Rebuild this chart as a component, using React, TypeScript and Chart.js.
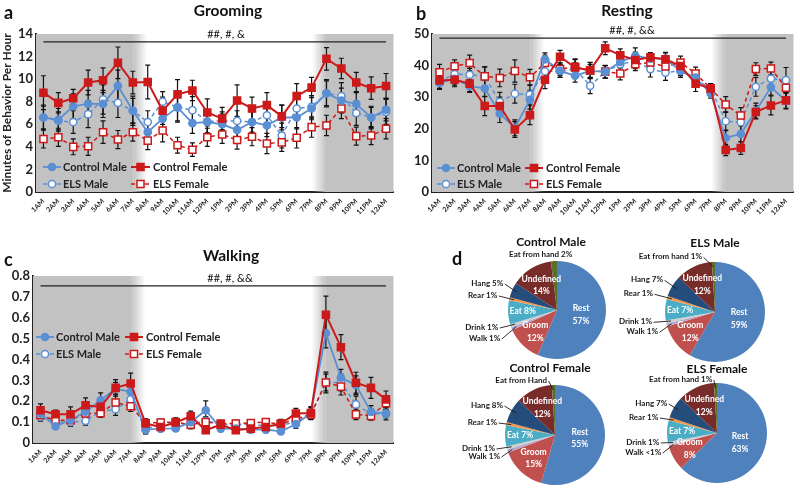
import React, { useEffect, useRef } from 'react';
import { Chart, registerables } from 'chart.js';
Chart.register(...registerables);

const FONT = 'Lato, "Open Sans", sans-serif';
const BLUE = '#5a8fd4';
const RED = '#cc1a1a';
const NIGHT = '#c2c2c2';

// ---------- data ----------
const hours = ['1AM','2AM','3AM','4AM','5AM','6AM','7AM','8AM','9AM','10AM','11AM','12PM','1PM','2PM','3PM','4PM','5PM','6PM','7PM','8PM','9PM','10PM','11PM','12AM'];
const nightRanges = [[0, 6], [19, 23]];
const seriesNames = ['Control Male', 'Control Female', 'ELS Male', 'ELS Female'];

const groomControlMale = [6.6,6.4,7.6,7.8,7.8,9.4,7.2,5.3,6.5,7.5,6.1,6.2,6.0,5.5,6.2,5.9,6.6,6.6,7.4,8.75,8.1,7.8,6.6,7.3];
const groomControlFemale = [8.8,7.9,8.3,9.7,9.9,11.45,9.7,9.75,7.2,8.65,9.0,7.05,6.5,8.1,7.4,7.7,6.7,8.5,9.25,11.8,10.95,9.7,9.2,9.4];
const groomELSMale = [6.6,6.3,6.2,6.9,8.2,7.9,7.2,6.2,8.0,7.5,7.25,6.25,6.3,6.3,6.2,6.8,5.0,7.4,7.55,8.75,8.5,7.0,6.6,7.1];
const groomELSFemale = [4.7,4.85,4.0,4.05,5.3,4.65,5.3,4.55,5.45,4.15,3.75,4.85,5.1,4.6,4.9,4.3,4.4,4.8,5.75,5.9,7.4,4.95,5.0,5.6];
const groomControlMaleErr = [1.1,1.0,1.1,1.2,1.2,1.4,1.3,0.9,1.0,1.3,0.9,1.0,0.9,0.9,1.0,1.0,1.1,1.0,1.0,1.2,1.1,1.1,1.0,1.0];
const groomControlFemaleErr = [1.5,0.9,0.8,1.1,1.1,1.4,1.0,1.5,1.2,1.3,0.9,1.2,1.0,1.4,1.0,1.1,1.0,1.1,0.9,1.0,0.9,0.9,1.0,1.1];
const groomELSMaleErr = [1.0,0.8,1.0,1.2,1.3,1.3,1.1,1.0,0.9,1.2,1.2,1.0,0.8,0.9,0.9,1.0,1.1,1.0,1.0,1.1,1.2,1.1,0.9,1.1];
const groomELSFemaleErr = [0.8,0.8,0.7,0.8,1.0,0.8,0.8,0.8,1.0,0.7,0.6,0.8,0.8,0.8,0.8,0.9,0.8,0.9,0.9,0.9,0.9,0.8,0.8,0.9];

const restControlMale = [34.5,35.8,33.5,32.8,24.8,20.3,29.2,42.0,38.3,36.8,38.3,38.0,41.2,43.1,42.2,42.2,38.3,36.2,31.2,17.1,18.4,25.6,33.2,28.8];
const restControlFemale = [35.3,35.5,34.3,27.2,27.2,19.8,24.3,35.5,42.8,39.4,38.5,45.5,43.3,41.8,42.6,42.0,39.9,34.3,32.8,13.3,13.9,25.3,27.4,29.0];
const restELSMale = [35.1,37.3,37.1,36.6,28.5,31.1,30.8,38.2,38.3,38.9,33.6,38.0,40.4,41.5,38.9,37.8,38.3,35.7,32.8,22.4,22.1,33.3,35.9,35.4];
const restELSFemale = [37.9,39.8,40.8,36.6,36.1,38.3,36.3,40.8,38.9,39.6,38.4,38.1,37.5,40.4,41.0,39.7,41.0,37.5,32.8,27.7,24.2,38.9,39.1,33.0];
const restControlMaleErr = [2.0,2.0,2.0,2.5,2.8,2.5,3.0,2.0,2.0,2.0,2.0,2.0,2.0,2.5,1.5,2.0,1.5,2.0,1.5,2.5,2.5,2.5,2.5,2.5];
const restControlFemaleErr = [2.5,2.2,2.5,3.0,2.8,2.5,3.0,2.8,2.0,2.5,2.5,2.0,2.0,2.5,1.5,2.0,2.0,2.5,1.5,1.8,2.0,2.0,3.0,2.5];
const restELSMaleErr = [2.5,2.0,2.0,3.0,3.0,3.0,3.0,2.0,2.0,2.0,2.5,2.0,2.0,2.5,2.5,2.5,2.0,2.5,1.5,3.0,3.0,3.0,2.5,4.0];
const restELSFemaleErr = [2.5,2.0,2.5,3.0,2.8,3.5,2.5,2.5,2.0,2.5,2.5,2.0,2.0,2.0,1.5,2.0,2.0,2.0,1.5,2.5,2.5,2.0,2.0,3.0];

const walkControlMale = [0.14,0.08,0.11,0.15,0.205,0.26,0.245,0.064,0.069,0.07,0.1,0.157,0.069,0.069,0.064,0.064,0.056,0.09,0.144,0.526,0.313,0.277,0.149,0.141];
const walkControlFemale = [0.157,0.138,0.138,0.181,0.173,0.264,0.285,0.093,0.077,0.098,0.128,0.061,0.088,0.061,0.069,0.077,0.093,0.141,0.144,0.614,0.459,0.289,0.264,0.209];
const walkELSMale = [0.125,0.10,0.10,0.106,0.15,0.162,0.209,0.065,0.093,0.09,0.09,0.106,0.09,0.085,0.093,0.08,0.085,0.10,0.137,0.29,0.29,0.185,0.138,0.141];
const walkELSFemale = [0.133,0.109,0.109,0.141,0.143,0.194,0.176,0.096,0.098,0.10,0.088,0.10,0.093,0.093,0.096,0.10,0.09,0.114,0.137,0.29,0.27,0.137,0.13,0.19];
const walkControlMaleErr = [0.02,0.015,0.02,0.02,0.035,0.03,0.03,0.02,0.015,0.015,0.02,0.045,0.015,0.015,0.015,0.015,0.015,0.02,0.025,0.07,0.04,0.045,0.03,0.02];
const walkControlFemaleErr = [0.03,0.02,0.035,0.035,0.03,0.04,0.05,0.02,0.015,0.02,0.025,0.015,0.015,0.015,0.015,0.015,0.02,0.025,0.03,0.09,0.06,0.05,0.05,0.04];
const walkELSMaleErr = [0.02,0.015,0.02,0.02,0.02,0.03,0.03,0.02,0.015,0.02,0.02,0.02,0.015,0.015,0.015,0.015,0.015,0.02,0.02,0.05,0.04,0.04,0.025,0.03];
const walkELSFemaleErr = [0.025,0.02,0.02,0.025,0.02,0.04,0.025,0.02,0.015,0.02,0.02,0.02,0.015,0.015,0.015,0.015,0.015,0.02,0.025,0.04,0.04,0.025,0.02,0.03];

const pieCategories = ['Rest','Groom','Walk','Drink','Eat','Rear','Hang','Undefined','Eat from hand'];
const pieControlMale = [57,12,1,1,8,1,5,14,2];
const pieELSMale = [59,12,1,1,7,1,7,12,1];
const pieControlFemale = [55,15,1,1,7,1,8,12,1];
const pieELSFemale = [63,8,0.5,1,7,1,7,12,1];
const pieControlMaleText = ['Rest|57%','Groom|12%','Walk 1%','Drink 1%','Eat 8%','Rear 1%','Hang 5%','Undefined|14%','Eat from hand 2%'];
const pieELSMaleText = ['Rest|59%','Groom|12%','Walk 1%','Drink 1%','Eat 7%','Rear 1%','Hang 7%','Undefined|12%','Eat from hand 1%'];
const pieControlFemaleText = ['Rest|55%','Groom|15%','Walk 1%','Drink 1%','Eat 7%','Rear 1%','Hang 8%','Undefined|12%','Eat from Hand'];
const pieELSFemaleText = ['Rest|63%','Groom|8%','Walk <1%','Drink 1%','Eat 7%','Rear 1%','Hang 7%','Undefined|12%','Eat from hand 1%'];

// ---------- styles ----------
const pieColors = ['#4f81bd','#c0504d','#b7a6cc','#cfcfcf','#4bacc6','#f79646','#244d7b','#772c2a','#5b6e2a'];
const seriesStyle = [
  { color: BLUE, style: 'circle', r: 3.6, fill: BLUE, dash: [], lw: 1.8 },
  { color: RED, style: 'rect', r: 5, fill: RED, dash: [], lw: 2 },
  { color: BLUE, style: 'circle', r: 3.6, fill: '#ffffff', dash: [4, 3], lw: 1.5 },
  { color: RED, style: 'rect', r: 5, fill: '#ffffff', dash: [4, 3], lw: 1.5 },
];

function drawMarker(ctx, st, x, y) {
  ctx.save();
  ctx.setLineDash([]);
  ctx.fillStyle = st.fill;
  ctx.strokeStyle = st.color;
  ctx.lineWidth = 1.5;
  ctx.beginPath();
  if (st.style === 'circle') ctx.arc(x, y, st.r, 0, Math.PI * 2);
  else { const s = st.r * Math.SQRT1_2; ctx.rect(x - s, y - s, 2 * s, 2 * s); }
  ctx.fill();
  ctx.stroke();
  ctx.restore();
}

function LineChart({ left, top, width, height, series, errors, yMin, yMax, step, sig, yWidth, xHeight, padTop, padRight, legend, yTitle }) {
  const ref = useRef(null);
  useEffect(() => {
    const nightPlugin = {
      id: 'night',
      beforeDatasetsDraw(chart) {
        const { ctx, chartArea: a, scales } = chart;
        const x = scales.x;
        const half = (x.getPixelForValue(1) - x.getPixelForValue(0)) / 2;
        const fade = 7;
        ctx.save();
        nightRanges.forEach(([s, e]) => {
          const L = Math.max(a.left, x.getPixelForValue(s) - half);
          const R = Math.min(a.right, x.getPixelForValue(e) + half);
          const inL = L > a.left + 1;
          const inR = R < a.right - 1;
          const sL = inL ? L + fade : L;
          const sR = inR ? R - fade : R;
          ctx.fillStyle = NIGHT;
          ctx.fillRect(sL, a.top, sR - sL, a.bottom - a.top);
          if (inL) {
            const g = ctx.createLinearGradient(L - fade, 0, L + fade, 0);
            g.addColorStop(0, 'rgba(194,194,194,0)');
            g.addColorStop(1, NIGHT);
            ctx.fillStyle = g;
            ctx.fillRect(L - fade, a.top, 2 * fade, a.bottom - a.top);
          }
          if (inR) {
            const g = ctx.createLinearGradient(R - fade, 0, R + fade, 0);
            g.addColorStop(0, NIGHT);
            g.addColorStop(1, 'rgba(194,194,194,0)');
            ctx.fillStyle = g;
            ctx.fillRect(R - fade, a.top, 2 * fade, a.bottom - a.top);
          }
        });
        // significance line
        const ys = scales.y.getPixelForValue(sig);
        ctx.strokeStyle = '#222';
        ctx.lineWidth = 1.3;
        ctx.beginPath();
        ctx.moveTo(x.getPixelForValue(0), ys);
        ctx.lineTo(x.getPixelForValue(hours.length - 1), ys);
        ctx.stroke();
        // error bars
        ctx.strokeStyle = '#111';
        ctx.lineWidth = 1.2;
        chart.data.datasets.forEach((ds, di) => {
          const meta = chart.getDatasetMeta(di);
          const err = errors[ds.seriesIndex];
          meta.data.forEach((pt, j) => {
            const v = ds.data[j];
            const e = err[j];
            const y1 = scales.y.getPixelForValue(v + e);
            const y2 = scales.y.getPixelForValue(v - e);
            ctx.beginPath();
            ctx.moveTo(pt.x, y1); ctx.lineTo(pt.x, y2);
            ctx.moveTo(pt.x - 2.5, y1); ctx.lineTo(pt.x + 2.5, y1);
            ctx.moveTo(pt.x - 2.5, y2); ctx.lineTo(pt.x + 2.5, y2);
            ctx.stroke();
          });
        });
        ctx.restore();
      },
      afterDraw(chart) {
        const { ctx } = chart;
        ctx.save();
        const cells = [
          { si: 0, col: 0, row: 0 }, { si: 1, col: 1, row: 0 },
          { si: 2, col: 0, row: 1 }, { si: 3, col: 1, row: 1 },
        ];
        cells.forEach(({ si, col, row }) => {
          const c = legend.cols[col];
          const y = legend.rows[row];
          const st = seriesStyle[si];
          ctx.strokeStyle = st.color;
          ctx.lineWidth = st.lw;
          ctx.setLineDash(st.dash);
          ctx.beginPath();
          ctx.moveTo(c[0], y); ctx.lineTo(c[1], y);
          ctx.stroke();
          drawMarker(ctx, st, (c[0] + c[1]) / 2, y);
          ctx.setLineDash([]);
          ctx.fillStyle = '#222';
          ctx.font = `bold 11px ${FONT}`;
          ctx.textBaseline = 'middle';
          ctx.textAlign = 'left';
          ctx.fillText(seriesNames[si], c[2], y + 0.5);
        });
        ctx.restore();
      },
    };

    const order = [1, 0, 3, 2];
    const datasets = order.map((si) => {
      const st = seriesStyle[si];
      return {
        label: seriesNames[si],
        seriesIndex: si,
        data: series[si],
        borderColor: st.color,
        backgroundColor: st.fill,
        borderWidth: st.lw,
        borderDash: st.dash,
        pointStyle: st.style,
        pointRadius: st.r,
        pointBackgroundColor: st.fill,
        pointBorderColor: st.color,
        pointBorderWidth: 1.5,
        tension: 0,
      };
    });

    const chart = new Chart(ref.current, {
      type: 'line',
      data: { labels: hours, datasets },
      plugins: [nightPlugin],
      options: {
        animation: false,
        responsive: false,
        events: [],
        layout: { padding: { top: padTop, right: padRight, left: 0, bottom: 0 } },
        plugins: { legend: { display: false }, tooltip: { enabled: false } },
        scales: {
          x: {
            offset: true,
            grid: { display: false, drawTicks: false },
            border: { display: true, color: '#222', width: 2 },
            ticks: { autoSkip: false, maxRotation: 45, minRotation: 45, padding: 5, color: '#222', font: { family: FONT, size: 7, weight: 'bold' } },
            afterFit: (s) => { s.height = xHeight; },
          },
          y: {
            min: yMin, max: yMax,
            grid: { display: false, drawTicks: false },
            border: { display: true, color: '#222', width: 2 },
            ticks: { stepSize: step, padding: 3, color: '#222', font: { family: FONT, size: 13, weight: 'bold' } },
            title: yTitle ? { display: true, text: yTitle, color: '#222', font: { family: FONT, size: 12, weight: 'bold' }, padding: { top: 0, bottom: 2 } } : { display: false },
            afterFit: (s) => { s.width = yWidth; },
          },
        },
      },
    });
    return () => chart.destroy();
  }, []);
  return <canvas ref={ref} width={width} height={height} style={{ position: 'absolute', left, top, width, height }} />;
}

const insideFactor = { 0: 0.5, 1: 0.63, 4: 0.7, 7: 0.6 };

function PieChart({ cx, cy, r, values, texts, offsets }) {
  const ref = useRef(null);
  const W = 200, H = 130;
  const left = cx - 100, top = cy - 65;
  useEffect(() => {
    const labelPlugin = {
      id: 'pieLabels',
      afterDraw(chart) {
        const { ctx } = chart;
        const meta = chart.getDatasetMeta(0);
        ctx.save();
        meta.data.forEach((arc, i) => {
          const p = arc.getProps(['x', 'y', 'startAngle', 'endAngle', 'outerRadius'], true);
          const mid = (p.startAngle + p.endAngle) / 2;
          const txt = texts[i];
          ctx.textBaseline = 'middle';
          if (insideFactor[i] !== undefined) {
            ctx.font = `bold 8.5px ${FONT}`;
            const f = insideFactor[i];
            const x = p.x + Math.cos(mid) * p.outerRadius * f;
            const y = p.y + Math.sin(mid) * p.outerRadius * f;
            const lines = txt.split('|');
            ctx.fillStyle = '#ffffff';
            ctx.textAlign = 'center';
            lines.forEach((ln, k) => {
              ctx.fillText(ln, x, y + (k - (lines.length - 1) / 2) * 12.5);
            });
          } else {
            ctx.font = `bold 8px ${FONT}`;
            const o = offsets[i];
            const tx = p.x + o[0];
            const ty = p.y + o[1];
            ctx.fillStyle = '#1a1a1a';
            ctx.textAlign = 'right';
            ctx.fillText(txt, tx, ty);
            const ex = p.x + Math.cos(mid) * p.outerRadius * 0.9;
            const ey = p.y + Math.sin(mid) * p.outerRadius * 0.9;
            if (ex > tx + 2) {
              ctx.strokeStyle = '#1a1a1a';
              ctx.lineWidth = 0.9;
              ctx.beginPath();
              ctx.moveTo(tx + 1.5, ty + 1);
              ctx.lineTo(ex, ey);
              ctx.stroke();
            }
          }
        });
        ctx.restore();
      },
    };
    const chart = new Chart(ref.current, {
      type: 'pie',
      data: { labels: pieCategories, datasets: [{ data: values, backgroundColor: pieColors, borderWidth: 0 }] },
      plugins: [labelPlugin],
      options: {
        animation: false,
        responsive: false,
        events: [],
        layout: { padding: { left: 100 - r, right: W - 100 - r, top: 65 - r, bottom: H - 65 - r } },
        plugins: { legend: { display: false }, tooltip: { enabled: false } },
      },
    });
    return () => chart.destroy();
  }, []);
  return <canvas ref={ref} width={W} height={H} style={{ position: 'absolute', left, top, width: W, height: H }} />;
}

function T({ x, y, s, w = 700, children, align = 'center' }) {
  return (
    <div style={{
      position: 'absolute', left: x, top: y,
      transform: align === 'center' ? 'translate(-50%,-50%)' : 'translate(0,-50%)',
      font: `${w} ${s}px ${FONT}`, whiteSpace: 'nowrap', color: '#111', lineHeight: 1,
    }}>{children}</div>
  );
}

export default function App() {
  useEffect(() => { document.body.style.margin = '0'; }, []);
  return (
    <div style={{ position: 'relative', width: 800, height: 488, overflow: 'hidden', background: '#fff' }}>
      <LineChart left={0} top={0} width={400} height={250}
        series={[groomControlMale, groomControlFemale, groomELSMale, groomELSFemale]}
        errors={[groomControlMaleErr, groomControlFemaleErr, groomELSMaleErr, groomELSFemaleErr]}
        yMin={0} yMax={14} step={2} sig={13.3}
        yWidth={36} xHeight={58} padTop={34} padRight={6}
        legend={{ rows: [167, 184], cols: [[43, 61, 63], [131, 150, 153]] }}
        yTitle="Minutes of Behavior Per Hour" />
      <LineChart left={400} top={0} width={400} height={250}
        series={[restControlMale, restControlFemale, restELSMale, restELSFemale]}
        errors={[restControlMaleErr, restControlFemaleErr, restELSMaleErr, restELSFemaleErr]}
        yMin={0} yMax={50} step={5} sig={48.7}
        yWidth={32} xHeight={58} padTop={34} padRight={3}
        legend={{ rows: [168, 184], cols: [[37, 55, 57], [125, 143, 146]] }} />
      <LineChart left={0} top={250} width={400} height={238}
        series={[walkControlMale, walkControlFemale, walkELSMale, walkELSFemale]}
        errors={[walkControlMaleErr, walkControlFemaleErr, walkELSMaleErr, walkELSFemaleErr]}
        yMin={0} yMax={0.8} step={0.1} sig={0.753}
        yWidth={33} xHeight={45} padTop={26} padRight={3}
        legend={{ rows: [87, 104], cols: [[36, 54, 56], [125, 143, 146]] }} />

      <PieChart cx={557} cy={310} r={49} values={pieControlMale} texts={pieControlMaleText}
        offsets={{ 2: [-56.7, 28], 3: [-58.7, 17], 5: [-59.7, -15], 6: [-53.7, -27], 8: [15.3, -56] }} />
      <PieChart cx={715} cy={312} r={50} values={pieELSMale} texts={pieELSMaleText}
        offsets={{ 2: [-57, 19.3], 3: [-63, 9.3], 5: [-62, -18.7], 6: [-52, -32.7], 8: [-13, -55.7] }} />
      <PieChart cx={555} cy={435} r={50} values={pieControlFemale} texts={pieControlFemaleText}
        offsets={{ 2: [-55, 21], 3: [-60, 13], 5: [-58, -13], 6: [-52, -30], 8: [-8, -55] }} />
      <PieChart cx={717} cy={433} r={50} values={pieELSFemale} texts={pieELSFemaleText}
        offsets={{ 2: [-55.7, 19], 3: [-57.7, 9], 5: [-58.7, -16], 6: [-49.7, -30], 8: [-4.7, -54] }} />

      <T x={4} y={12} s={18} align="left">a</T>
      <T x={228} y={11} s={15.5}>Grooming</T>
      <T x={226} y={33} s={11} w={400}>##, #, &amp;</T>
      <T x={416} y={13} s={18} align="left">b</T>
      <T x={627} y={11} s={15.5}>Resting</T>
      <T x={632} y={29} s={11} w={400}>##, #, &amp;&amp;</T>
      <T x={4} y={259} s={18} align="left">c</T>
      <T x={231} y={256} s={15.5}>Walking</T>
      <T x={230} y={277} s={11} w={400}>##, #, &amp;&amp;</T>
      <T x={452} y={258} s={18} align="left">d</T>
      <T x={551} y={242} s={12}>Control Male</T>
      <T x={715} y={243} s={12}>ELS Male</T>
      <T x={550} y={368} s={12}>Control Female</T>
      <T x={717} y={369} s={12}>ELS Female</T>
    </div>
  );
}
